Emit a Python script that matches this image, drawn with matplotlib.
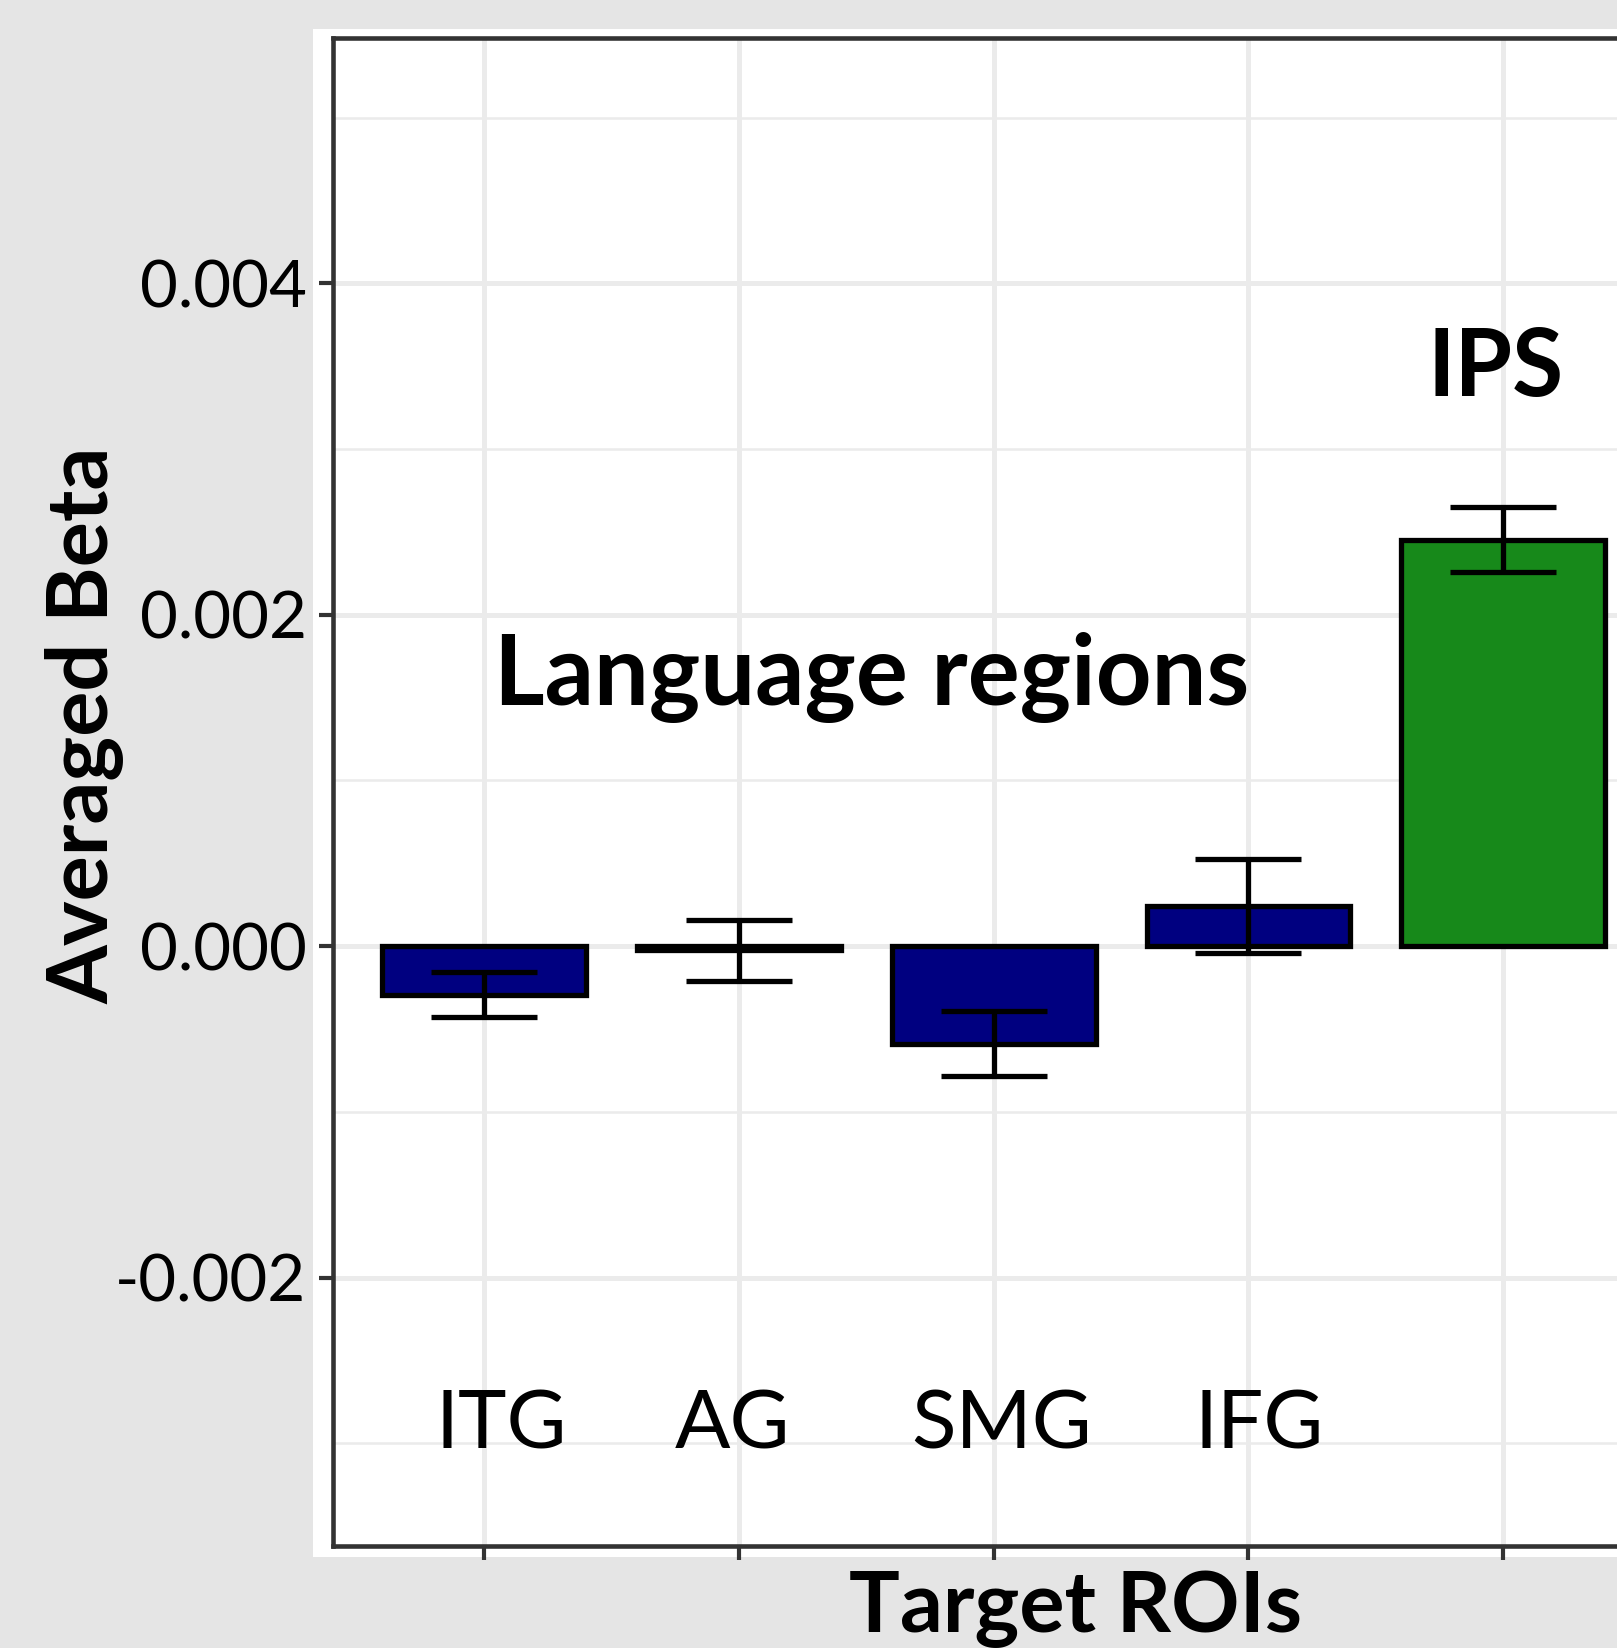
import matplotlib
matplotlib.use('Agg')
from matplotlib import pyplot as plt
from matplotlib.patches import Rectangle

plt.rcParams['font.family'] = ['Lato', 'DejaVu Sans']

regions = ['ITG', 'AG', 'SMG', 'IFG', 'IPS']
beta = [-0.000292, -0.000025, -0.00059, 0.000241, 0.002453]
se = [0.000136, 0.000183, 0.000196, 0.000285, 0.000197]
colors = ['#000080', '#000080', '#000080', '#000080', '#17891a']
yticks = [-0.002, 0.0, 0.002, 0.004]
ytick_labels = ['-0.002', '0.000', '0.002', '0.004']
yminor = [-0.003, -0.001, 0.001, 0.003, 0.005]

W, H = 1617, 1648
fig = plt.figure(figsize=(W / 100, H / 100), dpi=100, facecolor='#e5e5e5')

# white panel behind the plot (the reference is a crop of a bigger figure)
fig.patches.append(Rectangle((313 / W, 1 - 1557 / H), 1, 1557 / H - 29 / H,
                             transform=fig.transFigure, facecolor='white',
                             edgecolor='none', zorder=-10))

ax = fig.add_axes([333 / W, 1 - 1546 / H, 1323 / W, (1546 - 38) / H])
ax.set_zorder(1)
ax.set_facecolor('white')

x = list(range(len(regions)))
ax.bar(x, beta, width=0.8, color=colors, edgecolor='black', linewidth=3.8, zorder=3)
ax.errorbar(x, beta, yerr=se, fmt='none', ecolor='black', elinewidth=3.8,
            capsize=38, capthick=3.8, zorder=4)

ax.set_xlim(-0.594, 4.6)
ax.set_ylim(-0.00362, 0.00548)
ax.set_xticks(x)
ax.set_xticklabels([])
ax.set_yticks(yticks)
ax.set_yticklabels(ytick_labels)
ax.set_yticks(yminor, minor=True)

ax.grid(True, which='major', color='#ebebeb', linewidth=3.6, zorder=0)
ax.grid(True, which='minor', axis='y', color='#ebebeb', linewidth=1.8, zorder=0)
ax.set_axisbelow(True)

for s in ax.spines.values():
    s.set_color('#333333')
    s.set_linewidth(3.3)
ax.tick_params(axis='both', which='major', length=10, width=3, color='#333333',
               labelsize=47, pad=9, labelcolor='black')
ax.tick_params(axis='y', which='minor', length=0)

# region names written inside the panel
name_x = [0.066, 0.973, 2.029, 3.043]
for xi, name in zip(name_x, regions[:4]):
    ax.text(xi, -0.00303, name, ha='center', va='baseline', fontsize=59)

ax.text(1.522, 0.001458, 'Language regions', ha='center', va='baseline',
        fontsize=70, fontweight='bold')
ax.text(3.97, 0.003322, 'IPS', ha='center', va='baseline',
        fontsize=67, fontweight='bold')

fig.text(84 / W, 1 - 725 / H, 'Averaged Beta', rotation=90, ha='center',
         va='center', fontsize=61, fontweight='bold')
fig.text(1076 / W, 1 - 1632 / H, 'Target ROIs', ha='center', va='baseline',
         fontsize=61, fontweight='bold')

fig.savefig('out.png', dpi=100, facecolor=fig.get_facecolor())
